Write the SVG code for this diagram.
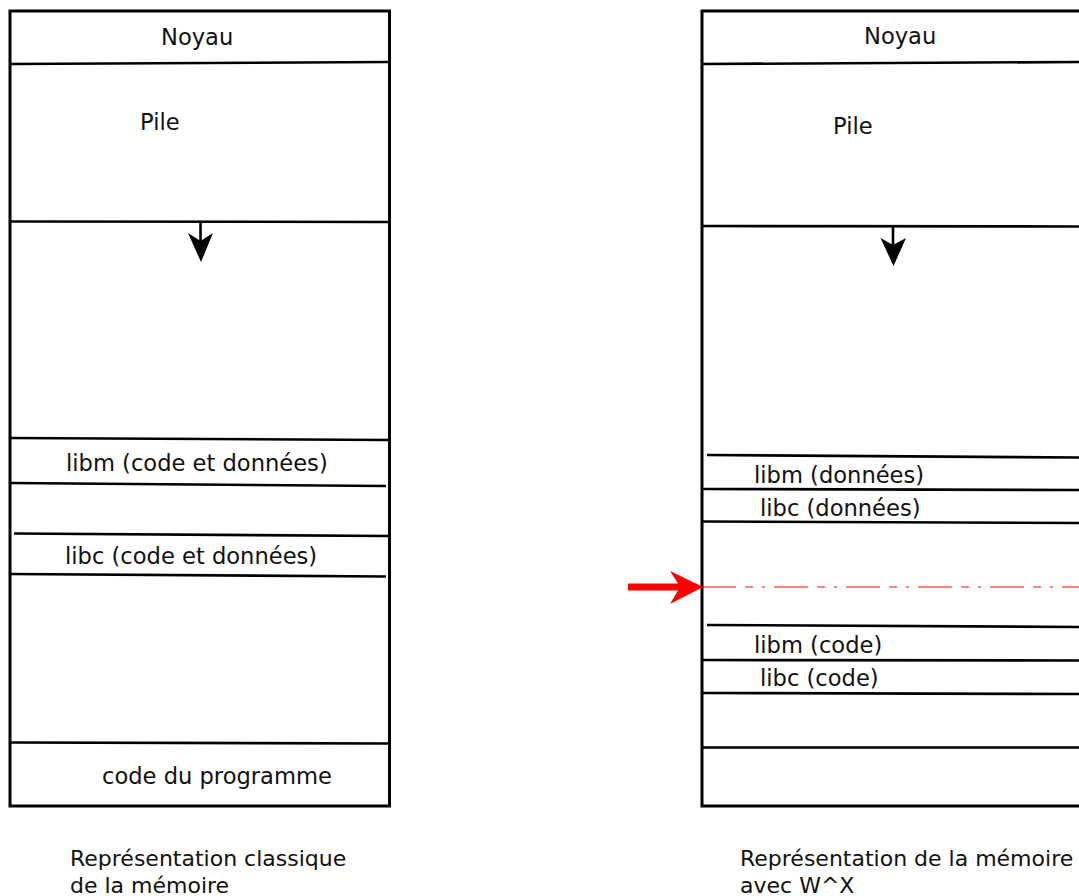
<svg xmlns="http://www.w3.org/2000/svg" width="1079" height="896" viewBox="0 0 1079 896">
<style>
  .box { fill: #ffffff; stroke: #000000; stroke-width: 3; }
  .sep { fill: none; stroke: #000000; stroke-width: 2.6; }
  .lbl { font-family: "DejaVu Sans", "Liberation Sans", sans-serif; font-size: 22.6px; fill: #111111; }
  .cap { font-family: "DejaVu Sans", "Liberation Sans", sans-serif; font-size: 22px; fill: #111111; }
  .ah { fill: #000000; stroke: none; }
  .stem { stroke: #000000; stroke-width: 2.6; fill: none; }
  .redline { stroke: #ff0000; stroke-opacity: 0.65; stroke-width: 1.4; fill: none; stroke-dasharray: 34 9 8 9 3 9; }
</style>
<rect width="1079" height="896" fill="#ffffff"/>

<g id="memoire-classique">
  <rect class="box" x="10" y="11" width="379.5" height="795"/>
  <g id="c-noyau">
    <line class="sep" x1="10" y1="64" x2="389.5" y2="62"/>
    <text class="lbl" x="161" y="45" font-size="21.5">Noyau</text>
  </g>
  <g id="c-pile">
    <line class="sep" x1="10" y1="221.5" x2="389.5" y2="222"/>
    <text class="lbl" x="140" y="130">Pile</text>
  </g>
  <g id="c-libm">
    <line class="sep" x1="10" y1="438" x2="389.5" y2="440"/>
    <line class="sep" x1="10" y1="483" x2="386" y2="486"/>
    <text class="lbl" x="66" y="471">libm (code et données)</text>
  </g>
  <g id="c-libc">
    <line class="sep" x1="14" y1="533.5" x2="389.5" y2="536"/>
    <line class="sep" x1="10" y1="574" x2="386" y2="576.5"/>
    <text class="lbl" x="65" y="564">libc (code et données)</text>
  </g>
  <g id="c-code">
    <line class="sep" x1="10" y1="742.5" x2="389.5" y2="743.5"/>
    <text class="lbl" x="102" y="784">code du programme</text>
  </g>
  <text class="cap" x="70" y="866">Représentation classique</text>
  <text class="cap" x="70" y="893">de la mémoire</text>
</g>

<g id="memoire-wx">
  <rect class="box" x="702" y="11" width="400" height="795"/>
  <g id="w-noyau">
    <line class="sep" x1="702" y1="64" x2="1079" y2="62"/>
    <text class="lbl" x="864" y="44" font-size="21.5">Noyau</text>
  </g>
  <g id="w-pile">
    <line class="sep" x1="702" y1="226" x2="1079" y2="226.5"/>
    <text class="lbl" x="833" y="134">Pile</text>
  </g>
  <g id="w-libm-donnees">
    <line class="sep" x1="707" y1="455" x2="1079" y2="457.5"/>
    <line class="sep" x1="702" y1="489" x2="1079" y2="490"/>
    <text class="lbl" x="754" y="483">libm (données)</text>
  </g>
  <g id="w-libc-donnees">
    <line class="sep" x1="702" y1="521.5" x2="1079" y2="523"/>
    <text class="lbl" x="760" y="515.5">libc (données)</text>
  </g>
  <g id="w-libm-code">
    <line class="sep" x1="707" y1="625" x2="1079" y2="627"/>
    <line class="sep" x1="702" y1="660" x2="1079" y2="660.5"/>
    <text class="lbl" x="754" y="653">libm (code)</text>
  </g>
  <g id="w-libc-code">
    <line class="sep" x1="702" y1="693" x2="1079" y2="694"/>
    <text class="lbl" x="760" y="685.5">libc (code)</text>
  </g>
  <g id="w-prog">
    <line class="sep" x1="702" y1="747.5" x2="1079" y2="747.5"/>
  </g>
  <text class="cap" x="740" y="866">Représentation de la mémoire</text>
  <text class="cap" x="740" y="893">avec W^X</text>
</g>

<g id="connecteurs">
  <line class="stem" x1="200.5" y1="222" x2="200.5" y2="246"/>
  <path class="ah" d="M201,262 L188,233 L200.5,241 L213,233 Z"/>
  <line class="stem" x1="893" y1="226" x2="893" y2="250"/>
  <path class="ah" d="M893.5,266 L880.5,238 L893,245 L906,238 Z"/>
  <line class="redline" x1="702" y1="587" x2="1079" y2="587"/>
  <path fill="#ff0000" d="M628,583.5 L678,583.5 L670,571 L703,587 L670,604 L678,590.5 L628,590.5 Z"/>
</g>
</svg>
